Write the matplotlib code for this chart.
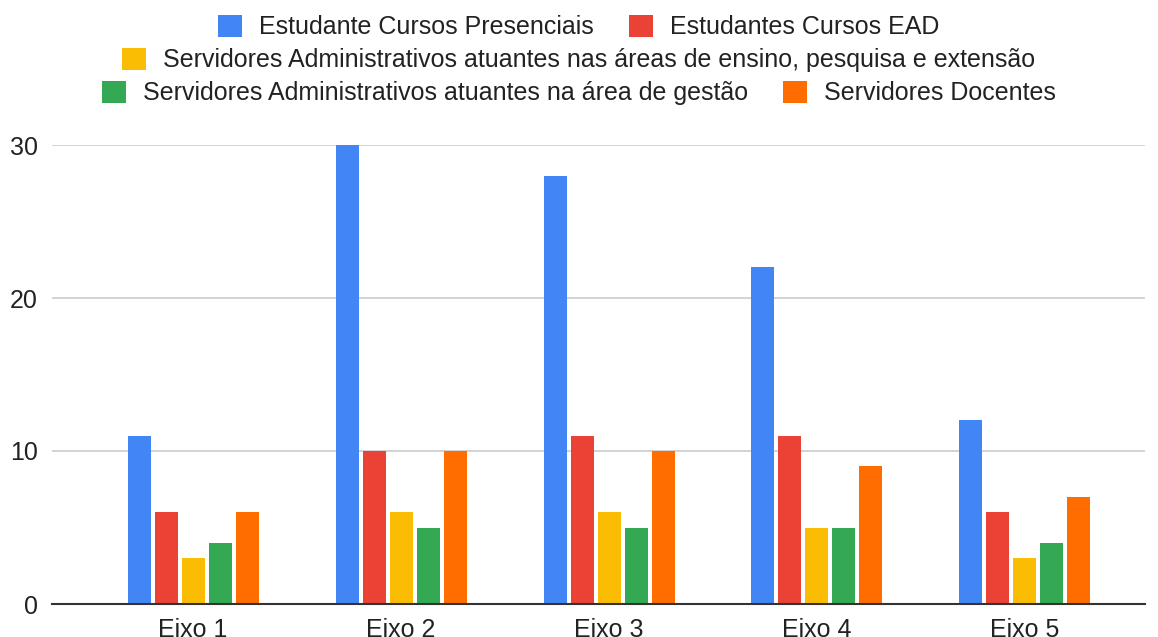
import numpy as np
import matplotlib.pyplot as plt
from matplotlib.patches import Patch

plt.rcParams['font.family'] = ['Liberation Sans', 'DejaVu Sans']

eixos = ['Eixo 1', 'Eixo 2', 'Eixo 3', 'Eixo 4', 'Eixo 5']
series = [
    'Estudante Cursos Presenciais',
    'Estudantes Cursos EAD',
    'Servidores Administrativos atuantes nas áreas de ensino, pesquisa e extensão',
    'Servidores Administrativos atuantes na área de gestão',
    'Servidores Docentes',
]
presenciais = [11, 30, 28, 22, 12]
ead = [6, 10, 11, 11, 6]
adm_ensino = [3, 6, 6, 5, 3]
adm_gestao = [4, 5, 5, 5, 4]
docentes = [6, 10, 10, 9, 7]
colors = ['#4285f4', '#ea4335', '#fbbc04', '#34a853', '#ff6d01']

values = [presenciais, ead, adm_ensino, adm_gestao, docentes]

W, H = 1158, 637
fig = plt.figure(figsize=(W / 100, H / 100), dpi=100)
ax = fig.add_axes([52 / W, 1 - 604 / H, (1145 - 52) / W, (604 - 145) / H])

x = np.arange(len(eixos))
step = 27 / 208
width = 23 / 208
for i, (vals, c) in enumerate(zip(values, colors)):
    ax.bar(x + (i - 2) * step, vals, width, color=c, zorder=3)

ax.set_xlim(-0.678, 4.577)
ax.set_ylim(0, 30)
ax.set_yticks([0, 10, 20, 30])
ax.yaxis.grid(True, color='#cccccc', linewidth=1.2, zorder=0)
ax.set_xticks(x)
ax.set_xticklabels(eixos)
ax.tick_params(axis='both', length=0, labelsize=18, colors='#222222')
ax.tick_params(axis='y', pad=10)
ax.tick_params(axis='x', pad=10)
for s in ['top', 'right', 'left']:
    ax.spines[s].set_visible(False)
ax.spines['bottom'].set_color('#333333')
ax.spines['bottom'].set_linewidth(1.5)
ax.spines['bottom'].set_zorder(4)

handles = [Patch(facecolor=c, label=l) for c, l in zip(colors, series)]
rows = [[0, 1], [2], [3, 4]]
ys = [27, 60, 93]
for r, yy in zip(rows, ys):
    leg = fig.legend([handles[i] for i in r], [series[i] for i in r],
                     loc='center', bbox_to_anchor=(0.5, 1 - yy / H), ncol=len(r),
                     frameon=False, fontsize=18, handlelength=0.96, handleheight=0.96,
                     handletextpad=0.68, columnspacing=1.4, borderpad=0)
    for t in leg.get_texts():
        t.set_color('#222222')

fig.savefig('out.png', dpi=100)
